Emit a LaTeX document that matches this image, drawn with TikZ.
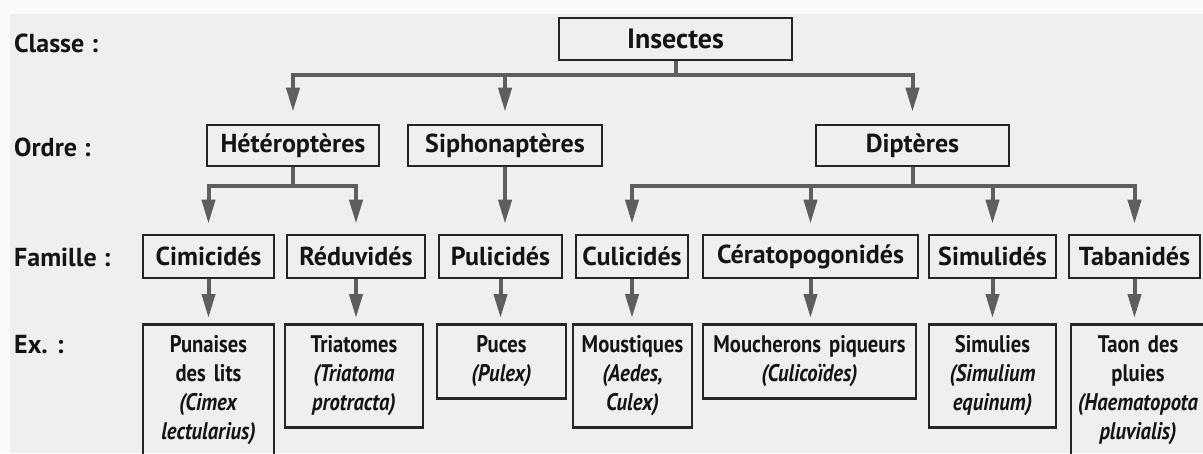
\documentclass[tikz,border=0pt]{standalone}
\usepackage{fontspec}
\setmainfont{PT Sans}
\newfontfamily\exfamily{PT Sans}[FakeStretch=0.86]
\usetikzlibrary{arrows.meta, calc}
\definecolor{bggray}{HTML}{EFEFEF}
\definecolor{topwhite}{HTML}{FAFAFA}
\definecolor{boxline}{HTML}{262626}
\definecolor{arrowgray}{HTML}{5E5E5E}
\definecolor{inkblack}{HTML}{141414}
\newcommand{\exstrut}{\rule[-8.7pt]{0pt}{29pt}}
\tikzset{
    taxbox/.style={draw=boxline, line width=2.6pt, minimum height=42pt, inner sep=0pt, text=inkblack, font=\fontsize{26}{30}\selectfont\bfseries},
    exbox/.style={draw=boxline, line width=2.6pt, anchor=north, align=center, inner xsep=0pt, inner ysep=8pt, text=inkblack, font=\exfamily\fontsize{24}{29}\selectfont\bfseries,
        execute at begin node={\setlength{\baselineskip}{29pt}\exstrut}, execute at end node={\exstrut}},
    ranklabel/.style={anchor=west, inner sep=0pt, text=inkblack, font=\fontsize{26}{30}\selectfont\bfseries},
    treeline/.style={draw=arrowgray, line width=4pt},
    treearrow/.style={treeline, -{Triangle[length=24pt, width=13pt]}}
}

\begin{document}
\begin{tikzpicture}[x=1pt, y=-1pt]
    \useasboundingbox (0,0) rectangle (1203,453);
    \fill[topwhite] (0,0) rectangle (1203,453);
    \fill[bggray] (10,14) rectangle (1203,453);

    % Rank labels
    \node[ranklabel] (lclasse) at (14,43) {Classe :};
    \node[ranklabel] (lordre) at (14,147) {Ordre :};
    \node[ranklabel] (lfamille) at (14,257) {Famille :};
    \node[ranklabel] (lex) at (14,345) {Ex. :};

    % Classe and ordres
    \node[taxbox, minimum width=233pt, font=\fontsize{28}{32}\selectfont\bfseries] (ins) at (675.5,39) {Insectes};
    \node[taxbox, minimum width=172pt, minimum height=41pt] (het) at (293,145.5) {Hétéroptères};
    \node[taxbox, minimum width=194pt, minimum height=41pt] (sip) at (505,145.5) {Siphonaptères};
    \node[taxbox, minimum width=193pt, minimum height=41pt] (dip) at (912.5,145.5) {Diptères};

    % Familles
    \node[taxbox, minimum width=131pt, minimum height=43pt] (cim) at (208.5,256.5) {Cimicidés};
    \node[taxbox, minimum width=138pt, minimum height=43pt] (rdv) at (356,256.5) {Réduvidés};
    \node[taxbox, minimum width=123pt, minimum height=43pt] (pul) at (500.5,256.5) {Pulicidés};
    \node[taxbox, minimum width=112pt, minimum height=43pt] (cul) at (632,256.5) {Culicidés};
    \node[taxbox, minimum width=215pt, minimum height=43pt] (cer) at (810.5,256.5) {Cératopogonidés};
    \node[taxbox, minimum width=127pt, minimum height=43pt] (sim) at (992.5,256.5) {Simulidés};
    \node[taxbox, minimum width=131pt, minimum height=43pt] (tab) at (1134.5,256.5) {Tabanidés};

    % Exemples
    \node[exbox, text width=131pt] (pun) at (208.5,323) {Punaises\\des lits\\\textit{(Cimex}\\\textit{lectularius)}};
    \node[exbox, text width=138pt] (tri) at (354,323) {Triatomes\\\textit{(Triatoma}\\\textit{protracta)}};
    \node[exbox, text width=129pt] (puc) at (501.5,323) {Puces\\\textit{(Pulex)}};
    \node[exbox, text width=119pt] (mou) at (632.5,323) {Moustiques\\\textit{(Aedes,}\\\textit{Culex)}};
    \node[exbox, text width=213pt] (mch) at (809.5,323) {Moucherons piqueurs\\\textit{(Culicoïdes)}};
    \node[exbox, text width=127pt] (smu) at (992.5,323) {Simulies\\\textit{(Simulium}\\\textit{equinum)}};
    \node[exbox, text width=134pt] (tao) at (1138,323) {Taon des\\pluies\\\textit{(Haematopota}\\\textit{pluvialis)}};

    % Classe vers ordres
    \draw[treearrow, shorten >=12pt] (ins.south) -- ++(0,14) -| (het.north);
    \draw[treearrow, shorten >=12pt] (ins.south) -- ++(0,14) -| (sip.north);
    \draw[treearrow, shorten >=12pt] (ins.south) -- ++(0,14) -| (dip.north);

    % Ordres vers familles
    \draw[treearrow, shorten >=10pt] (het.south) -- ++(0,19) -| (cim.north);
    \draw[treearrow, shorten >=10pt] (het.south) -- ++(0,19) -| (rdv.north);
    \draw[treearrow, shorten >=10pt] (sip.south) -- (sip.south |- pul.north);
    \draw[treearrow, shorten >=10pt] (dip.south) -- ++(0,19) -| (cul.north);
    \draw[treearrow, shorten >=10pt] (dip.south) -- ++(0,19) -| (cer.north);
    \draw[treearrow, shorten >=10pt] (dip.south) -- ++(0,19) -| (sim.north);
    \draw[treearrow, shorten >=10pt] (dip.south) -- ++(0,19) -| (tab.north);

    % Familles vers exemples
    \draw[treearrow, shorten >=5pt] (cim.south) -- (cim.south |- pun.north);
    \draw[treearrow, shorten >=5pt] (rdv.south) -- (rdv.south |- tri.north);
    \draw[treearrow, shorten >=5pt] (pul.south) -- (pul.south |- puc.north);
    \draw[treearrow, shorten >=5pt] (cul.south) -- (cul.south |- mou.north);
    \draw[treearrow, shorten >=5pt] (cer.south) -- (cer.south |- mch.north);
    \draw[treearrow, shorten >=5pt] (sim.south) -- (sim.south |- smu.north);
    \draw[treearrow, shorten >=5pt] (tab.south) -- (tab.south |- tao.north);
\end{tikzpicture}
\end{document}
